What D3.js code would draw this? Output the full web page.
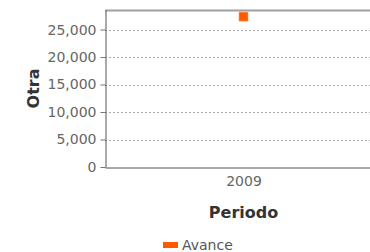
<!DOCTYPE html>
<html>
<head>
<meta charset="utf-8">
<script src="https://cdn.jsdelivr.net/npm/d3@7"></script>
<style>
	body { margin: 0; background: #fff; }
	svg { display: block; font-family: 'DejaVu Sans', Verdana, sans-serif; }
</style>
</head>
<body>
<svg id="chart" width="370" height="252"></svg>
<script>
'use strict';

// Chart values
var periods = ['2009'];
var avance = [27350];
var y_ticks = [0, 5000, 10000, 15000, 20000, 25000];
var y_max = 28550;
var series_name = 'Avance';

var svg = d3.select('#chart');
var margin = { left: 105, top: 10, right: -12, bottom: 85 };
var width = 370 - margin.left - margin.right;
var height = 252 - margin.top - margin.bottom;

var x_scale = d3.scalePoint()
	.domain(periods)
	.range([0, width])
	.padding(0.5);
var y_scale = d3.scaleLinear()
	.domain([0, y_max])
	.range([height, 0]);

var canvas = svg.append('g')
	.attr('transform', 'translate(' + margin.left + ',' + margin.top + ')');

// Gridlines
canvas.selectAll('line.grid')
	.data(y_ticks.slice(1))
	.enter().append('line')
	.attr('class', 'grid')
	.attr('x1', 0)
	.attr('x2', width)
	.attr('y1', function(d) { return Math.round(y_scale(d)) + 0.5; })
	.attr('y2', function(d) { return Math.round(y_scale(d)) + 0.5; })
	.attr('stroke', '#aaa')
	.attr('stroke-dasharray', '2,2');

// Top border
canvas.append('line')
	.attr('x1', 0).attr('x2', width)
	.attr('y1', 0.5).attr('y2', 0.5)
	.attr('stroke', '#a0a0a0')
	.attr('stroke-width', 2);

// Y axis
var y_axis = canvas.append('g')
	.attr('transform', 'translate(0.5,0)')
	.call(d3.axisLeft(y_scale).tickValues(y_ticks).tickSizeInner(5).tickSizeOuter(0)
		.tickPadding(4).tickFormat(d3.format(',')));
y_axis.select('.domain').attr('stroke', '#555');
y_axis.selectAll('.tick line').attr('stroke', '#777');
y_axis.selectAll('.tick text')
	.attr('fill', '#666')
	.style('font-size', '14px')
	.style('font-family', 'DejaVu Sans');

// X axis
var x_axis = canvas.append('g')
	.attr('transform', 'translate(0,' + (height + 0.5) + ')')
	.call(d3.axisBottom(x_scale).tickSize(0).tickPadding(9));
x_axis.select('.domain').attr('stroke', '#555');
x_axis.selectAll('.tick text')
	.attr('fill', '#666')
	.style('font-size', '14px')
	.style('font-family', 'DejaVu Sans');

// Axis titles
svg.append('text')
	.attr('x', margin.left + x_scale(periods[0]))
	.attr('y', 218)
	.attr('text-anchor', 'middle')
	.attr('fill', '#333')
	.style('font-size', '16px')
	.style('font-weight', 'bold')
	.text('Periodo');

svg.append('text')
	.attr('transform', 'translate(39,' + (margin.top + height / 2) + ') rotate(-90)')
	.attr('text-anchor', 'middle')
	.attr('fill', '#333')
	.style('font-size', '16px')
	.style('font-weight', 'bold')
	.text('Otra');

// Data markers
canvas.selectAll('rect.marker')
	.data(avance)
	.enter().append('rect')
	.attr('class', 'marker')
	.attr('x', function(d, i) { return x_scale(periods[i]) - 4.5; })
	.attr('y', function(d) { return y_scale(d) - 4.5; })
	.attr('width', 9)
	.attr('height', 9)
	.attr('fill', '#ff5a00')
	.attr('stroke', '#ff9a66')
	.attr('stroke-width', 0.6);

// Legend
var legend = svg.append('g').attr('transform', 'translate(163,242)');
legend.append('rect')
	.attr('width', 15).attr('height', 6)
	.attr('fill', '#ff5a00');
legend.append('text')
	.attr('x', 19).attr('y', 8)
	.attr('fill', '#555')
	.style('font-size', '14px')
	.text(series_name);
</script>
</body>
</html>
